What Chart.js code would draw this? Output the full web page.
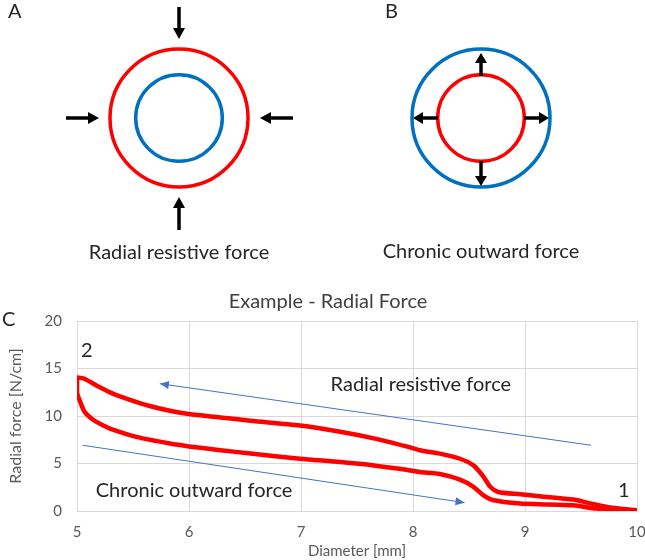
<!DOCTYPE html>
<html lang="en">
<head>
<meta charset="UTF-8">
<title>Example - Radial Force</title>
<script src="https://cdn.jsdelivr.net/npm/chart.js"></script>
<style>
  html, body { margin: 0; padding: 0; background: #fff; }
  #wrap { width: 645px; height: 560px; }
</style>
</head>
<body>
<div id="wrap"><canvas id="forceChart" width="645" height="560"></canvas></div>
<script>
// loading curve (radial resistive force)
const upperX = [5.00, 5.06, 5.20, 5.32, 5.46, 5.65, 5.83, 6.00, 6.28, 6.55, 6.99, 7.35, 7.65, 7.94, 8.06, 8.24, 8.42, 8.54, 8.63, 8.69, 8.76, 8.96, 9.13, 9.43, 9.58, 9.73, 10.00];
const upperY = [14.05, 13.95, 13.05, 12.35, 11.75, 11.05, 10.55, 10.2, 9.85, 9.5, 9.0, 8.35, 7.65, 6.8, 6.4, 6.04, 5.5, 4.8, 3.6, 2.55, 2.0, 1.76, 1.55, 1.2, 0.8, 0.42, 0.07];

// unloading curve (chronic outward force)
const lowerX = [5.00, 5.00, 5.03, 5.07, 5.15, 5.235, 5.30, 5.53, 5.83, 6.00, 6.28, 6.55, 6.99, 7.35, 7.65, 7.94, 8.06, 8.24, 8.42, 8.54, 8.63, 8.72, 8.96, 9.13, 9.43, 9.64, 10.00];
const lowerY = [14.0, 12.5, 11.45, 10.4, 9.55, 9.0, 8.65, 7.8, 7.1, 6.8, 6.4, 6.05, 5.5, 5.15, 4.8, 4.35, 4.1, 3.9, 3.3, 2.55, 1.65, 1.13, 0.78, 0.72, 0.6, 0.25, 0.07];

// blue direction arrows [start, tip]
const resistArrowX = [9.59, 5.74];
const resistArrowY = [6.92, 13.4];
const outwardArrowX = [5.05, 8.46];
const outwardArrowY = [6.92, 0.88];

// text inside the plot
const noteText = ['2', '1', 'Radial resistive force', 'Chronic outward force'];
const noteX = [5.036, 9.83, 8.07, 6.045];
const noteY = [16.9, 2.2, 13.35, 2.18];

// axis ticks
const xTicks = [5, 6, 7, 8, 9, 10];
const yTicks = [0, 5, 10, 15, 20];

const RED = '#ff0000';
const BLUE = '#0070c0';
const ARROW_BLUE = '#4472c4';
const FONT = 'Lato';

Chart.defaults.font.family = FONT;

function pts(xs, ys) {
    return xs.map((x, i) => ({ x: x, y: ys[i] }));
}

function drawArrow(ctx, x1, y1, x2, y2, lw, headLen, headW, color) {
    const ang = Math.atan2(y2 - y1, x2 - x1);
    const bx = x2 - Math.cos(ang) * headLen;
    const by = y2 - Math.sin(ang) * headLen;
    ctx.save();
    ctx.strokeStyle = color;
    ctx.fillStyle = color;
    ctx.lineWidth = lw;
    ctx.beginPath();
    ctx.moveTo(x1, y1);
    ctx.lineTo(bx, by);
    ctx.stroke();
    ctx.beginPath();
    ctx.moveTo(x2, y2);
    ctx.lineTo(bx + Math.sin(ang) * headW / 2, by - Math.cos(ang) * headW / 2);
    ctx.lineTo(bx - Math.sin(ang) * headW / 2, by + Math.cos(ang) * headW / 2);
    ctx.closePath();
    ctx.fill();
    ctx.restore();
}

function circle(ctx, cx, cy, r, color) {
    ctx.save();
    ctx.strokeStyle = color;
    ctx.lineWidth = 3.5;
    ctx.beginPath();
    ctx.arc(cx, cy, r, 0, Math.PI * 2);
    ctx.stroke();
    ctx.restore();
}

function text(ctx, str, x, y, size, color, align) {
    ctx.save();
    ctx.font = size + 'px ' + FONT;
    ctx.fillStyle = color;
    ctx.textAlign = align || 'center';
    ctx.textBaseline = 'middle';
    ctx.fillText(str, x, y);
    ctx.restore();
}

// panels A and B (schematics above the chart) + panel letters and title
const schematicPlugin = {
    id: 'schematic',
    afterDraw(chart) {
        const ctx = chart.ctx;
        // A: radial resistive force
        circle(ctx, 179, 118, 69, RED);
        circle(ctx, 179, 118, 43.3, BLUE);
        drawArrow(ctx, 179, 7, 179, 39, 3.5, 11, 12, '#000');
        drawArrow(ctx, 179, 230, 179, 197, 3.5, 11, 12, '#000');
        drawArrow(ctx, 66, 118, 99, 118, 3.5, 11, 12, '#000');
        drawArrow(ctx, 293, 118, 260, 118, 3.5, 11, 12, '#000');
        text(ctx, 'Radial resistive force', 179, 253, 20, '#262626');
        text(ctx, 'A', 8, 12, 20, '#262626', 'left');

        // B: chronic outward force
        circle(ctx, 481, 118, 69, BLUE);
        circle(ctx, 481, 118, 43.3, RED);
        drawArrow(ctx, 481, 76, 481, 53, 3.5, 10, 12, '#000');
        drawArrow(ctx, 481, 161, 481, 186, 3.5, 10, 12, '#000');
        drawArrow(ctx, 438, 118, 413, 118, 3.5, 10, 12, '#000');
        drawArrow(ctx, 524, 118, 549, 118, 3.5, 10, 12, '#000');
        text(ctx, 'Chronic outward force', 481, 252, 20, '#262626');
        text(ctx, 'B', 385, 12, 20, '#262626', 'left');

        // C: chart
        text(ctx, 'C', 2, 320, 20, '#262626', 'left');
        text(ctx, 'Example - Radial Force', 328, 302, 20, '#404040');
    },
    afterDatasetsDraw(chart) {
        const ctx = chart.ctx;
        const xs = chart.scales.x;
        const ys = chart.scales.y;
        const heads = [[resistArrowX, resistArrowY], [outwardArrowX, outwardArrowY]];
        heads.forEach(([ax, ay]) => {
            const x1 = xs.getPixelForValue(ax[0]), y1 = ys.getPixelForValue(ay[0]);
            const x2 = xs.getPixelForValue(ax[1]), y2 = ys.getPixelForValue(ay[1]);
            const ang = Math.atan2(y2 - y1, x2 - x1);
            const bx = x2 - Math.cos(ang) * 9, by = y2 - Math.sin(ang) * 9;
            ctx.save();
            ctx.fillStyle = ARROW_BLUE;
            ctx.beginPath();
            ctx.moveTo(x2, y2);
            ctx.lineTo(bx + Math.sin(ang) * 4, by - Math.cos(ang) * 4);
            ctx.lineTo(bx - Math.sin(ang) * 4, by + Math.cos(ang) * 4);
            ctx.closePath();
            ctx.fill();
            ctx.restore();
        });
        noteText.forEach((t, i) => {
            text(ctx, t, xs.getPixelForValue(noteX[i]), ys.getPixelForValue(noteY[i]), 20, '#262626', t.length > 2 ? 'center' : 'left');
        });
    }
};

const ctx = document.getElementById('forceChart').getContext('2d');
const forceChart = new Chart(ctx, {
    type: 'scatter',
    data: {
        datasets: [
            {
                label: 'Radial resistive force',
                data: pts(upperX, upperY),
                showLine: true,
                borderColor: RED,
                borderWidth: 4.5,
                pointRadius: 0,
                tension: 0.25,
                borderCapStyle: 'round',
                borderJoinStyle: 'round'
            },
            {
                label: 'Chronic outward force',
                data: pts(lowerX, lowerY),
                showLine: true,
                borderColor: RED,
                borderWidth: 4.5,
                pointRadius: 0,
                tension: 0.25,
                borderCapStyle: 'round',
                borderJoinStyle: 'round'
            },
            {
                label: 'resist arrow',
                data: pts(resistArrowX, resistArrowY),
                showLine: true,
                borderColor: ARROW_BLUE,
                borderWidth: 1,
                pointRadius: 0
            },
            {
                label: 'outward arrow',
                data: pts(outwardArrowX, outwardArrowY),
                showLine: true,
                borderColor: ARROW_BLUE,
                borderWidth: 1,
                pointRadius: 0
            }
        ]
    },
    options: {
        responsive: false,
        animation: false,
        layout: { padding: { top: 321, left: 0, right: 8, bottom: 0 } },
        plugins: {
            legend: { display: false },
            tooltip: { enabled: false }
        },
        scales: {
            x: {
                type: 'linear',
                min: 5,
                max: 10,
                afterBuildTicks: (s) => { s.ticks = xTicks.map(v => ({ value: v })); },
                afterFit: (s) => { s.height = 49; s.paddingLeft = 0; s.paddingRight = 0; },
                grid: { color: '#d9d9d9', drawTicks: false },
                border: { color: '#d9d9d9' },
                ticks: { color: '#595959', font: { size: 15 }, padding: 12, maxRotation: 0 },
                title: { display: true, text: 'Diameter [mm]', color: '#595959', font: { size: 15 }, padding: 0 }
            },
            y: {
                type: 'linear',
                min: 0,
                max: 20,
                afterBuildTicks: (s) => { s.ticks = yTicks.map(v => ({ value: v })); },
                afterFit: (s) => { s.width = 77; s.paddingTop = 0; s.paddingBottom = 0; },
                grid: { color: '#d9d9d9', drawTicks: false },
                border: { color: '#d9d9d9' },
                ticks: { color: '#595959', font: { size: 15 }, padding: 15 },
                title: { display: true, text: 'Radial force [N/cm]', color: '#595959', font: { size: 16 }, padding: 6 }
            }
        }
    },
    plugins: [schematicPlugin]
});
</script>
</body>
</html>
